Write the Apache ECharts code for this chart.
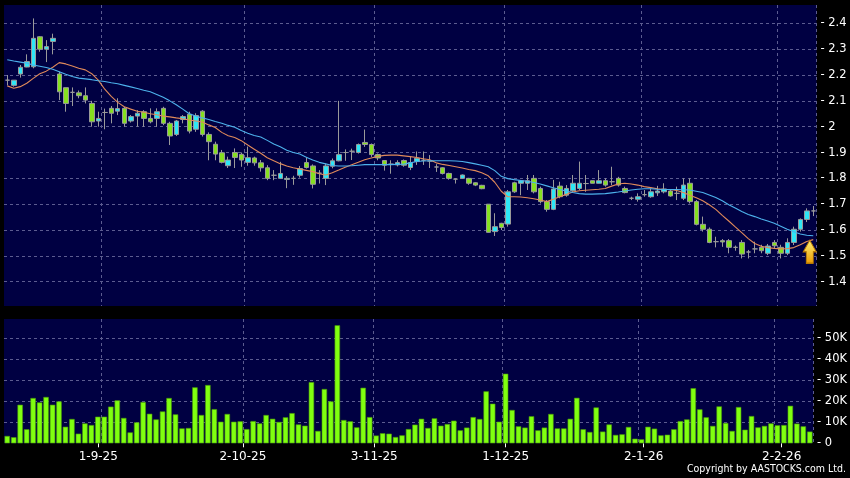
<!DOCTYPE html>
<html><head><meta charset="utf-8">
<script src="https://cdn.jsdelivr.net/npm/echarts@6/dist/echarts.min.js"></script>
<style>html,body{margin:0;padding:0;background:#000;}#c{width:850px;height:478px;}</style>
</head><body><div id="c"></div>
<script>
const dates = ['12-8-25','13-8-25','14-8-25','15-8-25','18-8-25','19-8-25','20-8-25','21-8-25','22-8-25','25-8-25','26-8-25','27-8-25','28-8-25','29-8-25',
'1-9-25','2-9-25','3-9-25','4-9-25','5-9-25','8-9-25','9-9-25','10-9-25','11-9-25','12-9-25','15-9-25','16-9-25','17-9-25','18-9-25','19-9-25','22-9-25','23-9-25','24-9-25','25-9-25','26-9-25','29-9-25','30-9-25',
'2-10-25','3-10-25','6-10-25','8-10-25','9-10-25','10-10-25','13-10-25','14-10-25','15-10-25','16-10-25','17-10-25','20-10-25','21-10-25','22-10-25','23-10-25','24-10-25','27-10-25','28-10-25','30-10-25','31-10-25',
'3-11-25','4-11-25','5-11-25','6-11-25','7-11-25','10-11-25','11-11-25','12-11-25','13-11-25','14-11-25','17-11-25','18-11-25','19-11-25','20-11-25','21-11-25','24-11-25','25-11-25','26-11-25','27-11-25','28-11-25',
'1-12-25','2-12-25','3-12-25','4-12-25','5-12-25','8-12-25','9-12-25','10-12-25','11-12-25','12-12-25','15-12-25','16-12-25','17-12-25','18-12-25','19-12-25','22-12-25','23-12-25','24-12-25','29-12-25','30-12-25','31-12-25',
'2-1-26','5-1-26','6-1-26','7-1-26','8-1-26','9-1-26','12-1-26','13-1-26','14-1-26','15-1-26','16-1-26','19-1-26','20-1-26','21-1-26','22-1-26','23-1-26','26-1-26','27-1-26','28-1-26','29-1-26','30-1-26',
'2-2-26','3-2-26','4-2-26','5-2-26','6-2-26','9-2-26','10-2-26'];

const tickLabels = ['1-9-25','2-10-25','3-11-25','1-12-25','2-1-26','2-2-26'];
const priceTicks = [1.4,1.5,1.6,1.7,1.8,1.9,2,2.1,2.2,2.3,2.4];
const volumeTicks = ['0','10K','20K','30K','40K','50K'];

const open = [2.18,2.16,2.204,2.231,2.232,2.348,2.30,2.33,2.204,2.151,
2.133,2.131,2.12,2.09,2.022,2.055,2.071,2.06,2.071,2.022,
2.041,2.058,2.032,2.032,2.071,2.013,1.97,2.028,2.048,1.99,
2.06,1.97,1.932,1.899,1.849,1.90,1.893,1.862,1.879,1.86,
1.841,1.812,1.80,1.796,1.80,1.812,1.861,1.848,1.82,1.80,
1.847,1.868,1.90,1.905,1.90,1.939,1.931,1.892,1.869,1.855,
1.852,1.869,1.842,1.865,1.87,1.867,1.844,1.841,1.819,1.797,
1.80,1.80,1.783,1.773,1.70,1.594,1.626,1.623,1.783,1.781,
1.781,1.80,1.761,1.71,1.68,1.77,1.735,1.752,1.761,1.78,
1.791,1.781,1.791,1.787,1.80,1.761,1.723,1.719,1.737,1.729,
1.744,1.748,1.751,1.742,1.723,1.781,1.71,1.622,1.603,1.555,
1.559,1.559,1.533,1.552,1.515,1.527,1.533,1.51,1.552,1.533,
1.51,1.552,1.603,1.641,1.674];
const close = [2.18,2.18,2.23,2.252,2.342,2.30,2.31,2.342,2.135,2.09,
2.133,2.12,2.103,2.019,2.032,2.055,2.052,2.07,2.013,2.039,
2.052,2.032,2.019,2.058,2.013,1.964,2.022,2.039,1.983,2.043,
1.97,1.942,1.894,1.862,1.871,1.881,1.871,1.88,1.86,1.841,
1.80,1.812,1.819,1.80,1.80,1.838,1.842,1.777,1.82,1.848,
1.868,1.892,1.90,1.905,1.931,1.931,1.892,1.879,1.851,1.855,
1.861,1.851,1.861,1.878,1.87,1.867,1.844,1.819,1.80,1.797,
1.813,1.781,1.774,1.76,1.591,1.613,1.61,1.748,1.748,1.791,
1.791,1.748,1.71,1.68,1.759,1.729,1.761,1.781,1.781,1.78,
1.781,1.791,1.774,1.787,1.774,1.745,1.723,1.729,1.737,1.748,
1.751,1.759,1.732,1.742,1.774,1.71,1.622,1.603,1.552,1.555,
1.554,1.533,1.533,1.507,1.515,1.527,1.52,1.538,1.539,1.51,
1.552,1.603,1.641,1.674,1.674];
const low = [2.16,2.155,2.19,2.23,2.226,2.29,2.25,2.28,2.103,2.058,
2.08,2.11,2.09,2.0,2.0,1.99,2.013,2.045,2.0,2.016,
2.0,2.0,2.013,2.0,2.006,1.929,1.964,2.013,1.974,1.98,
1.962,1.87,1.87,1.858,1.84,1.84,1.845,1.849,1.849,1.826,
1.793,1.793,1.80,1.762,1.775,1.803,1.838,1.761,1.78,1.774,
1.839,1.866,1.868,1.871,1.896,1.922,1.883,1.87,1.83,1.818,
1.846,1.845,1.832,1.852,1.852,1.84,1.825,1.815,1.795,1.78,
1.80,1.775,1.77,1.758,1.59,1.577,1.60,1.613,1.744,1.735,
1.755,1.742,1.703,1.671,1.677,1.723,1.729,1.748,1.755,1.748,
1.781,1.78,1.768,1.774,1.768,1.742,1.716,1.71,1.729,1.725,
1.732,1.742,1.729,1.716,1.716,1.703,1.618,1.594,1.549,1.533,
1.535,1.51,1.52,1.49,1.49,1.51,1.51,1.503,1.53,1.49,
1.503,1.542,1.594,1.631,1.654];
const high = [2.20,2.18,2.239,2.28,2.419,2.35,2.335,2.36,2.213,2.151,
2.152,2.14,2.152,2.10,2.058,2.07,2.08,2.11,2.077,2.045,
2.064,2.064,2.071,2.071,2.077,2.019,2.026,2.045,2.058,2.052,
2.064,1.978,1.942,1.91,1.884,1.916,1.90,1.923,1.884,1.871,
1.851,1.832,1.864,1.809,1.81,1.848,1.883,1.854,1.832,1.857,
1.877,2.10,1.912,1.915,1.935,1.989,1.935,1.896,1.87,1.87,
1.87,1.873,1.883,1.904,1.904,1.89,1.855,1.843,1.822,1.80,
1.815,1.802,1.785,1.775,1.70,1.665,1.628,1.755,1.787,1.794,
1.813,1.813,1.768,1.716,1.794,1.787,1.774,1.813,1.865,1.813,
1.791,1.832,1.80,1.845,1.806,1.768,1.729,1.742,1.755,1.761,
1.771,1.781,1.755,1.768,1.80,1.80,1.716,1.652,1.61,1.574,
1.565,1.565,1.54,1.561,1.523,1.555,1.543,1.546,1.561,1.543,
1.568,1.613,1.645,1.684,1.693];
const volume = [3500,2900,18400,6700,21600,19500,22100,18400,20000,7900,
11600,4600,9500,8700,12700,12700,17500,20500,12100,5200,
10000,19700,14100,11400,15200,21600,13800,7100,7300,26700,
13500,27800,16300,10300,14000,10300,10500,6800,10600,9500,
13500,11700,10200,12400,14400,9000,8400,29200,5900,25900,
20000,56300,11100,10500,7600,26500,12500,3700,4800,4600,
3000,3800,6800,8900,11700,7300,11900,8400,9200,10800,
6200,7500,12500,11600,24800,18900,10300,33200,15900,8100,
7500,12900,6200,7500,14000,7100,7100,11700,21700,6700,
5400,17100,5600,9000,4000,4300,7800,2200,1900,7900,
7000,3800,4100,6700,10600,11400,26300,16200,12400,8300,
17600,9700,5900,17300,6500,13000,7600,8300,9500,8600,
8700,17900,9400,8100,5600];
const ma10 = [2.158,2.149,2.155,2.168,2.187,2.205,2.215,2.23,2.248,2.243,
2.235,2.226,2.22,2.205,2.18,2.145,2.117,2.094,2.077,2.068,
2.06,2.056,2.05,2.046,2.041,2.038,2.034,2.031,2.026,2.022,
2.018,2.007,1.997,1.978,1.965,1.958,1.946,1.929,1.913,1.897,
1.88,1.868,1.857,1.848,1.841,1.836,1.831,1.826,1.818,1.813,
1.822,1.832,1.843,1.853,1.862,1.872,1.879,1.885,1.889,1.89,
1.89,1.887,1.884,1.881,1.876,1.872,1.86,1.854,1.85,1.845,
1.84,1.834,1.83,1.822,1.81,1.785,1.75,1.729,1.729,1.728,
1.725,1.721,1.716,1.71,1.719,1.729,1.738,1.747,1.752,1.754,
1.756,1.758,1.761,1.77,1.778,1.781,1.778,1.774,1.768,1.764,
1.76,1.757,1.757,1.753,1.745,1.735,1.725,1.713,1.698,1.68,
1.657,1.635,1.612,1.59,1.567,1.548,1.537,1.532,1.529,1.527,
1.528,1.532,1.543,1.556,1.563];
const ma20 = [2.259,2.254,2.25,2.246,2.239,2.234,2.229,2.222,2.213,2.203,
2.194,2.188,2.185,2.182,2.178,2.175,2.17,2.166,2.16,2.154,
2.148,2.141,2.135,2.125,2.114,2.1,2.085,2.068,2.05,2.041,
2.034,2.028,2.02,2.013,2.005,1.998,1.985,1.975,1.966,1.96,
1.947,1.933,1.922,1.909,1.9,1.894,1.882,1.871,1.862,1.856,
1.85,1.848,1.848,1.849,1.851,1.853,1.853,1.853,1.853,1.853,
1.854,1.855,1.86,1.865,1.867,1.868,1.868,1.868,1.868,1.867,
1.865,1.861,1.856,1.851,1.845,1.83,1.808,1.799,1.795,1.792,
1.789,1.784,1.778,1.771,1.764,1.757,1.751,1.745,1.741,1.739,
1.739,1.74,1.741,1.744,1.747,1.751,1.755,1.758,1.76,1.76,
1.758,1.757,1.757,1.757,1.756,1.755,1.75,1.745,1.736,1.726,
1.713,1.698,1.685,1.672,1.66,1.652,1.643,1.635,1.626,1.615,
1.603,1.593,1.585,1.58,1.578];
const arrowMark = {index: 123, price: 1.516};

const labelIdx = new Set(tickLabels.map(t => dates.indexOf(t)));
const splitIdx = new Set([...labelIdx].map(i => i + 1));
const candles = open.map((o, i) => [o, close[i], low[i], high[i]]);

const FONT = 'DejaVu Sans';
const gridLine = {show: true, lineStyle: {color: '#5c5c90', width: 1, type: [3, 3]}};
const vSplit = {show: true, interval: (i) => splitIdx.has(i), lineStyle: {color: '#5c5c90', width: 1, type: [3, 3]}};
const yLabel = {color: '#ffffff', fontFamily: FONT, fontSize: 11.5, margin: 4};

const chart = echarts.init(document.getElementById('c'), null, {renderer: 'canvas'});
chart.setOption({
  animation: false,
  backgroundColor: '#000000',
  grid: [
    {left: 4, top: 5, width: 812.5, height: 301, show: true, backgroundColor: '#000042', borderWidth: 0},
    {left: 4, top: 319, width: 812.5, height: 124.3, show: true, backgroundColor: '#000042', borderWidth: 0},
    {left: 3, top: 319, width: 821.4, height: 124.3, show: false}
  ],
  xAxis: [
    {type: 'category', gridIndex: 0, data: dates, boundaryGap: true, axisLine: {show: false}, axisTick: {show: false}, axisLabel: {show: false}, splitLine: vSplit},
    {type: 'category', gridIndex: 1, data: dates, boundaryGap: true, axisLine: {show: false}, axisTick: {show: false}, axisLabel: {show: false}, splitLine: vSplit},
    {type: 'category', gridIndex: 2, data: dates, boundaryGap: true, offset: 3, axisLine: {show: false},
     axisTick: {show: true, alignWithLabel: true, length: 4, interval: (i) => labelIdx.has(i), lineStyle: {color: '#ffffff'}},
     axisLabel: {show: true, interval: (i) => labelIdx.has(i), color: '#ffffff', fontFamily: FONT, fontSize: 12, margin: 5},
     splitLine: {show: false}}
  ],
  yAxis: [
    {type: 'value', gridIndex: 0, position: 'right', min: 1.306, max: 2.471, splitNumber: 12, scale: true,
     axisLine: {show: false}, axisTick: {show: false},
     splitLine: Object.assign({showMinLine: false, showMaxLine: false}, gridLine),
     axisLabel: Object.assign({showMinLabel: false, showMaxLabel: false, formatter: (v) => {
        const t = priceTicks.find(p => Math.abs(p - v) < 1e-6); return t === undefined ? '' : '- ' + t; }}, yLabel)},
    {type: 'value', gridIndex: 1, position: 'right', min: 0, max: 59300, splitNumber: 6,
     axisLine: {show: false}, axisTick: {show: false},
     splitLine: Object.assign({showMinLine: false, showMaxLine: false}, gridLine),
     axisLabel: Object.assign({showMinLabel: true, showMaxLabel: false, formatter: (v) => {
        const k = Math.round(v / 10000); return (Math.abs(v - k * 10000) < 1 && volumeTicks[k] !== undefined) ? '- ' + volumeTicks[k] : ''; }}, yLabel)},
    {type: 'value', gridIndex: 2, show: false}
  ],
  series: [
    {type: 'candlestick', xAxisIndex: 0, yAxisIndex: 0, data: candles, barWidth: 5,
     itemStyle: {color: '#2ee6f6', color0: '#86e020', borderColor: '#9a9a9a', borderColor0: '#9a9a9a', borderWidth: 1},
     markPoint: {silent: true, label: {show: false},
       data: [{coord: [arrowMark.index, arrowMark.price], symbol: 'path://M6.5,0 L13,11.5 L10,11.5 L10,23 L3,23 L3,11.5 L0,11.5 Z',
         symbolSize: [13, 23], symbolOffset: [3, 0],
         itemStyle: {color: new echarts.graphic.LinearGradient(0, 0, 0, 1, [{offset: 0, color: '#fff27a'}, {offset: 1, color: '#eb9a00'}]), borderColor: '#b87800', borderWidth: 1}}]}},
    {type: 'line', xAxisIndex: 0, yAxisIndex: 0, data: ma10, symbol: 'none', lineStyle: {color: '#e08a5a', width: 1.1}, z: 3},
    {type: 'line', xAxisIndex: 0, yAxisIndex: 0, data: ma20, symbol: 'none', lineStyle: {color: '#4db2ec', width: 1.1}, z: 3},
    {type: 'bar', xAxisIndex: 1, yAxisIndex: 1, data: volume, barWidth: 5.4,
     itemStyle: {color: '#80ff10', borderColor: '#4a9a08', borderWidth: 0.6}}
  ],
  graphic: [
    {type: 'text', right: 4, top: 464, style: {text: 'Copyright by AASTOCKS.com Ltd.', fill: '#ffffff', font: '10.5px "DejaVu Sans Condensed", "DejaVu Sans"'}}
  ]
});
</script></body></html>
